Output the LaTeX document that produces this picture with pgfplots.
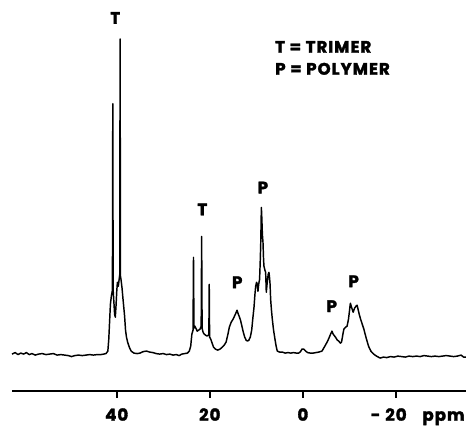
\documentclass[border=0pt]{standalone}
\usepackage{pgfplots}
\pgfplotsset{compat=1.18}
\usepackage{pgfplotstable}
\usepackage{fontspec}
\setmainfont{Poppins}[BoldFeatures={FakeBold=2, LetterSpace=6}]

% spectrum: shift (ppm) vs. intensity (baseline = 0)
\pgfplotstableread{
ppm I
62.5 0
61.8 1.5
61.2 -0.5
60.6 1
60.0 0
59.4 1.5
58.8 -0.5
58.2 0.5
57.5 -1
56.8 0
56.0 0.5
55.2 -0.5
54.4 0
53.6 0.5
52.8 -1
52.0 -0.5
51.2 -1
50.4 -1.5
49.7 -2.5
49.0 -1.5
48.2 -1
47.4 -1.5
46.6 -1
45.8 -0.5
45.0 -1
44.2 -0.5
43.4 -0.5
42.8 0
42.3 0.5
41.9 3
41.7 15
41.5 35
41.35 50
41.15 58
41.0 62
40.92 64
40.84 251
40.76 64
40.6 52
40.45 40
40.3 37
40.15 48
40.0 62
39.85 72
39.65 68
39.5 74
39.34 80
39.27 316
39.18 78
39.05 74
38.85 66
38.7 58
38.5 48
38.3 38
38.1 24
37.9 17
37.65 12
37.3 7
36.9 3
36.3 1
35.6 0.5
35.0 1
34.3 2.5
33.6 3
32.9 2
32.2 1.5
31.5 0.5
30.8 0
30.0 0.5
29.3 -0.5
28.6 0
27.9 -1
27.2 -0.5
26.6 -1.5
26.0 0
25.4 0.5
24.8 1
24.4 3
24.1 8
23.85 20
23.6 24
23.5 97
23.4 26
23.2 28
23.0 26
22.7 23
22.4 24
22.1 25
21.85 28
21.75 118
21.65 26
21.45 22
21.2 20
20.9 19
20.6 18
20.3 19
20.2 20
20.12 70
20.04 17
19.8 15
19.5 11
19.2 7
18.8 5
18.3 4
17.8 5
17.3 7
16.9 9
16.5 12
16.1 20
15.8 27
15.4 32
15.0 35
14.7 38
14.4 41
14.15 44
13.95 41
13.7 38
13.4 34
13.1 28
12.8 22
12.5 17
12.2 14
11.9 13
11.6 14
11.3 17
11.0 24
10.75 36
10.5 47
10.3 60
10.14 68
9.95 72
9.8 70
9.65 63
9.5 70
9.3 75
9.15 95
9.05 112
8.92 147
8.85 140
8.7 120
8.57 112
8.45 95
8.36 88
8.15 84
8.0 82
7.86 62
7.7 70
7.45 80
7.29 82
7.15 76
7.05 70
6.93 55
6.75 44
6.57 35
6.3 24
6.0 15
5.75 8
5.5 3
5.0 2
4.4 2
3.8 1
3.2 1.5
2.6 1
2.0 1.5
1.4 1
0.9 1
0.5 2.5
0.2 5
-0.2 5
-0.6 3
-1.0 1.5
-1.6 1
-2.2 1
-2.8 1.5
-3.4 2
-4.1 3
-4.6 7
-5.2 12
-5.6 16
-5.95 20
-6.25 23
-6.5 20
-7.0 17
-7.4 14
-7.7 13
-8.05 11
-8.3 12
-8.6 20
-8.8 25
-9.2 27
-9.5 28
-9.8 35
-10.05 45
-10.2 51
-10.45 47
-10.8 42
-11.1 46
-11.4 48
-11.65 49
-11.9 44
-12.1 40
-12.4 35
-12.75 30
-13.1 25
-13.6 16
-14.1 8
-14.6 3
-15.2 0
-15.8 -2
-16.6 -4
-17.3 -3
-18.0 -3.5
-18.8 -2.5
-19.6 -3
-20.4 -2
-21.2 -2.5
-22.0 -3
-22.8 -2
-23.6 -2.5
-24.4 -2
-25.2 -2.5
-26.0 -1.5
-26.8 -2
-27.6 -2.5
-28.4 -2
-29.2 -2.5
-30.0 -2
-30.8 -1.5
-31.6 -2
-32.4 -2.5
-33.2 -2
-34.0 -1
-34.5 -3
-35.0 -3
}\spectrum

\begin{document}
\begin{tikzpicture}
  \begin{axis}[
    x=3.5pt, y=0.75pt,
    x dir=reverse,
    xmin=-35, xmax=62.5,
    ymin=-37, ymax=355,
    axis x line=bottom,
    axis y line=none,
    x axis line style={-, line width=1.8pt},
    xtick={40,20,0,-20},
    xticklabels={40,20,0,{\llap{-\hspace{0.3em}}20\rlap{\hspace{0.95em}ppm}}},
    tick align=outside,
    major tick length=5pt,
    xtick style={line width=1.4pt, black},
    xticklabel style={font=\bfseries\fontsize{12.5}{12.5}\selectfont, yshift=-4.5pt},
    clip=false,
  ]
    \addplot[black, line width=1.1pt, line join=round, mark=none] table[x=ppm, y=I] {\spectrum};

    \begin{scope}[every node/.style={font=\bfseries\fontsize{12.5}{12.5}\selectfont, inner sep=0pt}]
      \node at (axis cs:40.3,337) {T};
      \node at (axis cs:21.6,145) {T};
      \node at (axis cs:14.1,72) {P};
      \node at (axis cs:8.6,167) {P};
      \node at (axis cs:-6.2,48) {P};
      \node at (axis cs:-10.9,73) {P};
    \end{scope}
    \node[anchor=west, inner sep=0pt, font=\bfseries\fontsize{12.5}{12.5}\selectfont] at (axis cs:6.0,308) {T = TRIMER};
    \node[anchor=west, inner sep=0pt, font=\bfseries\fontsize{12.5}{12.5}\selectfont] at (axis cs:6.0,286) {P = POLYMER};
  \end{axis}
  \path ([xshift=-9pt]current axis.south west) rectangle (current axis.north east);
\end{tikzpicture}
\end{document}
